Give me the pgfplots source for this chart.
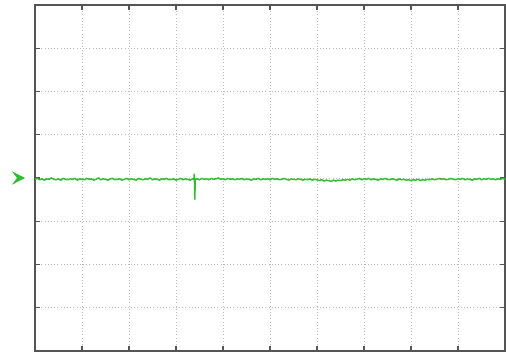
\documentclass[border=0pt]{standalone}
\usepackage{pgfplots}
\pgfplotsset{compat=1.18}
\definecolor{trace}{RGB}{46,190,46}
\definecolor{frame}{RGB}{85,85,85}
\definecolor{gridc}{RGB}{185,185,185}
\begin{document}
\begin{tikzpicture}
\begin{axis}[
  scale only axis, width=352.5pt, height=259.5pt,
  xmin=0, xmax=10, ymin=-4, ymax=4,
  xtick={0,...,10}, ytick={-4,...,4},
  xticklabels={}, yticklabels={},
  tick align=inside, major tick length=4pt,
  tick style={frame, line width=1pt},
  axis line style={frame, line width=1.1pt},
  grid=major, major grid style={gridc, dotted, line width=0.6pt},
  clip=false,
]
\addplot[trace, line width=1.1pt, mark=none] coordinates {
(0.00,-0.03)(0.05,-0.01)(0.10,-0.04)(0.15,-0.02)(0.20,-0.05)(0.25,-0.02)(0.30,-0.03)(0.35,0.00)(0.40,-0.03)(0.45,-0.04)
(0.50,-0.02)(0.55,-0.05)(0.60,-0.01)(0.65,-0.03)(0.70,-0.04)(0.75,-0.02)(0.80,-0.03)(0.85,-0.01)(0.90,-0.05)(0.95,-0.02)
(1.00,-0.03)(1.05,-0.04)(1.10,-0.01)(1.15,-0.03)(1.20,-0.02)(1.25,-0.05)(1.30,-0.03)(1.35,0.00)(1.40,-0.04)(1.45,-0.02)
(1.50,-0.03)(1.55,-0.05)(1.60,-0.02)(1.65,-0.01)(1.70,-0.04)(1.75,-0.03)(1.80,-0.02)(1.85,-0.05)(1.90,-0.03)(1.95,-0.01)
(2.00,-0.04)(2.05,-0.02)(2.10,-0.03)(2.15,-0.05)(2.20,-0.01)(2.25,-0.03)(2.30,-0.04)(2.35,-0.02)(2.40,-0.03)(2.45,0.00)
(2.50,-0.04)(2.55,-0.02)(2.60,-0.03)(2.65,-0.05)(2.70,-0.02)(2.75,-0.03)(2.80,-0.01)(2.85,-0.04)(2.90,-0.03)(2.95,-0.02)
(3.00,-0.05)(3.05,-0.03)(3.10,-0.01)(3.15,-0.04)(3.20,-0.02)(3.25,-0.03)(3.30,-0.05)(3.35,-0.02)(3.38,-0.03)(3.39,0.10)
(3.40,-0.50)(3.41,-0.03)(3.45,-0.02)(3.50,-0.04)(3.55,-0.01)(3.60,-0.03)(3.65,-0.02)(3.70,-0.04)(3.75,-0.01)(3.80,-0.03)
(3.85,-0.02)(3.90,0.00)(3.95,-0.03)(4.00,-0.02)(4.05,-0.04)(4.10,-0.01)(4.15,-0.03)(4.20,-0.02)(4.25,-0.04)(4.30,-0.02)
(4.35,-0.03)(4.40,-0.01)(4.45,-0.04)(4.50,-0.02)(4.55,-0.03)(4.60,-0.05)(4.65,-0.02)(4.70,-0.03)(4.75,-0.01)(4.80,-0.04)
(4.85,-0.02)(4.90,-0.03)(4.95,-0.02)(5.00,-0.04)(5.05,-0.01)(5.10,-0.03)(5.15,-0.02)(5.20,-0.04)(5.25,-0.03)(5.30,-0.01)
(5.35,-0.03)(5.40,-0.05)(5.45,-0.02)(5.50,-0.03)(5.55,-0.04)(5.60,-0.02)(5.65,-0.03)(5.70,-0.05)(5.75,-0.03)(5.80,-0.04)
(5.85,-0.02)(5.90,-0.05)(5.95,-0.03)(6.00,-0.04)(6.05,-0.06)(6.10,-0.04)(6.15,-0.07)(6.20,-0.05)(6.25,-0.06)(6.30,-0.08)
(6.35,-0.05)(6.40,-0.07)(6.45,-0.05)(6.50,-0.06)(6.55,-0.04)(6.60,-0.05)(6.65,-0.03)(6.70,-0.05)(6.75,-0.02)(6.80,-0.04)
(6.85,-0.03)(6.90,-0.01)(6.95,-0.04)(7.00,-0.02)(7.05,-0.03)(7.10,-0.01)(7.15,-0.04)(7.20,-0.02)(7.25,-0.03)(7.30,-0.05)
(7.35,-0.02)(7.40,-0.03)(7.45,-0.01)(7.50,-0.03)(7.55,-0.04)(7.60,-0.02)(7.65,-0.03)(7.70,-0.05)(7.75,-0.02)(7.80,-0.04)
(7.85,-0.03)(7.90,-0.05)(7.95,-0.04)(8.00,-0.06)(8.05,-0.04)(8.10,-0.05)(8.15,-0.03)(8.20,-0.06)(8.25,-0.04)(8.30,-0.05)
(8.35,-0.03)(8.40,-0.04)(8.45,-0.02)(8.50,-0.04)(8.55,-0.03)(8.60,-0.01)(8.65,-0.03)(8.70,-0.02)(8.75,-0.04)(8.80,-0.03)
(8.85,-0.01)(8.90,-0.03)(8.95,-0.04)(9.00,-0.02)(9.05,-0.03)(9.10,-0.01)(9.15,-0.04)(9.20,-0.02)(9.25,-0.03)(9.30,-0.05)
(9.35,-0.02)(9.40,-0.03)(9.45,-0.01)(9.50,-0.04)(9.55,-0.02)(9.60,-0.03)(9.65,-0.01)(9.70,-0.03)(9.75,-0.02)(9.80,-0.04)
(9.85,-0.02)(9.90,-0.03)(9.95,-0.01)(10.00,-0.03)
};
\fill[trace] ([xshift=-17.25pt,yshift=5pt]axis cs:0,0) -- ([xshift=-7.5pt]axis cs:0,0)
  -- ([xshift=-17.25pt,yshift=-5pt]axis cs:0,0) -- ([xshift=-13.5pt]axis cs:0,0) -- cycle;
\end{axis}
\pgfresetboundingbox
\path[use as bounding box] ([xshift=-26.25pt,yshift=-3.75pt]current axis.south west) rectangle ([xshift=0.75pt,yshift=3.75pt]current axis.north east);
\end{tikzpicture}
\end{document}
